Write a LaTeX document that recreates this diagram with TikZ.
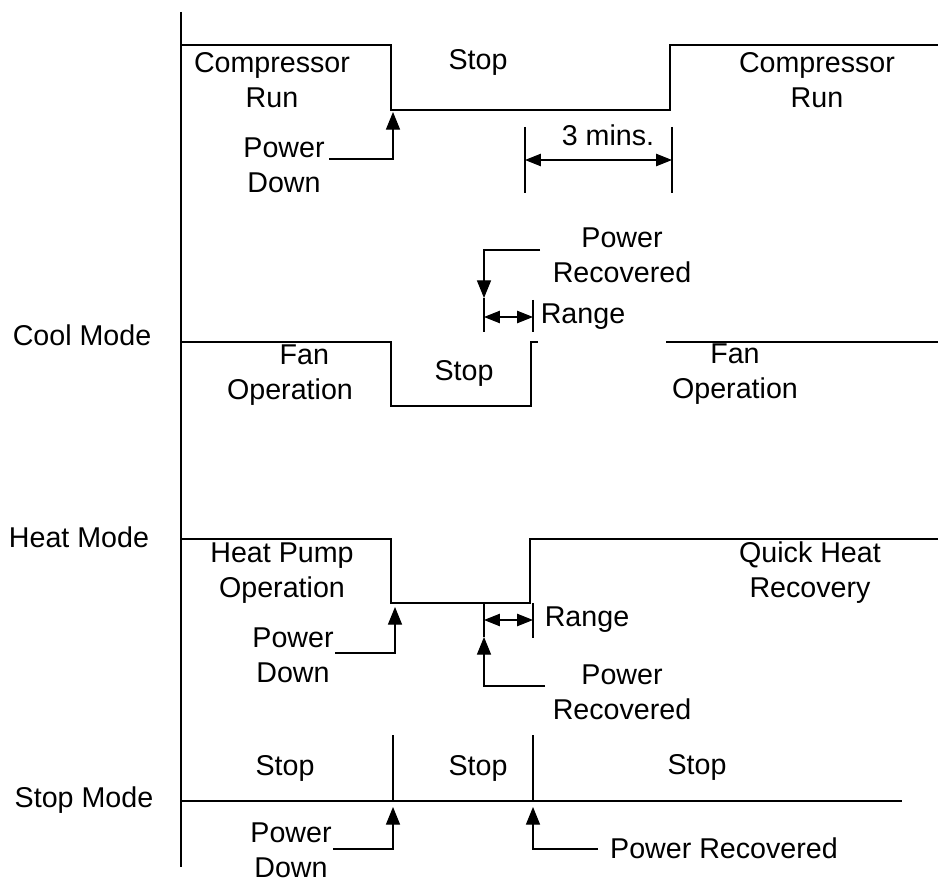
\documentclass[tikz,border=0pt]{standalone}
\usepackage{fontspec}
\setmainfont{Liberation Sans}
\usetikzlibrary{arrows.meta}

\begin{document}
\begin{tikzpicture}[
    x=0.02cm, y=-0.02cm,
    every node/.style={font=\fontsize{16.3}{19.9}\selectfont, align=center, inner sep=0pt},
    wave/.style={line width=0.6pt},
    pointer/.style={line width=0.6pt, -{Triangle[length=10pt,width=8pt]}},
    span/.style={line width=0.6pt, {Triangle[length=9pt,width=7pt]}-{Triangle[length=9pt,width=7pt]}}
]

\useasboundingbox (0,0) rectangle (938,882);

% =========================================================
% Time axis and mode labels
% =========================================================

\draw[wave] (181,12) -- (181,867);

\node (coolMode) at (82,335) {Cool Mode};
\node (heatMode) at (79,537) {Heat Mode};
\node (stopMode) at (84,800) {Stop Mode};


% =========================================================
% Compressor
% =========================================================

\draw[wave] (181,45) -- (391,45) -- (391,110) -- (670,110) -- (670,45) -- (938,45);

\node (compRunA) at (272,80) {Compressor\\Run};
\node (compStop) at (478,62) {Stop};
\node (compRunB) at (817,80) {Compressor\\Run};

\node (compDown) at (284,165) {Power\\Down};
\coordinate (compDownS) at (329,159);
\coordinate (compDownT) at (393,112);
\draw[pointer] (compDownS) -| (compDownT);

% 3 mins.
\draw[wave] (525,127) -- (525,193);
\draw[wave] (672,127) -- (672,193);
\coordinate (minsL) at (525,160);
\coordinate (minsR) at (672,160);
\draw[span] (minsL) -- (minsR);
\node (mins) at (608,135) {3 mins.};


% =========================================================
% Fan -- Cool Mode
% =========================================================

\draw[wave] (181,342) -- (391,342) -- (391,406) -- (531,406) -- (531,342) -- (538,342);
\draw[wave] (666,342) -- (938,342);

\node (fanOpA) at (290,375) {\hspace*{1em}Fan\\Operation};
\node (fanStop) at (464,373) {Stop};
\node (fanOpB) at (735,374) {Fan\\Operation};

\node (coolRec) at (622,255) {Power\\Recovered};
\coordinate (coolRecS) at (540,250);
\coordinate (coolRecT) at (484,298);
\draw[pointer] (coolRecS) -| (coolRecT);

\draw[wave] (484,298) -- (484,332);
\draw[wave] (533,300) -- (533,332);
\coordinate (coolRangeL) at (484,317);
\coordinate (coolRangeR) at (533,317);
\draw[span] (coolRangeL) -- (coolRangeR);
\node (coolRange) at (583,317) {Range};


% =========================================================
% Heat Mode
% =========================================================

\draw[wave] (181,539) -- (391,539) -- (391,603) -- (530,603) -- (530,539) -- (938,539);

\node (heatPump) at (282,573) {Heat Pump\\Operation};
\node (quickHeat) at (810,573) {Quick Heat\\Recovery};

\node (heatDown) at (293,655) {Power\\Down};
\coordinate (heatDownS) at (335,653);
\coordinate (heatDownT) at (395,607);
\draw[pointer] (heatDownS) -| (heatDownT);

\node (heatRec) at (622,692) {Power\\Recovered};
\coordinate (heatRecS) at (545,686);
\coordinate (heatRecT) at (484,637);
\draw[pointer] (heatRecS) -| (heatRecT);

\draw[wave] (484,603) -- (484,637);
\draw[wave] (533,603) -- (533,638);
\coordinate (heatRangeL) at (484,620);
\coordinate (heatRangeR) at (533,620);
\draw[span] (heatRangeL) -- (heatRangeR);
\node (heatRange) at (587,620) {Range};


% =========================================================
% Stop Mode
% =========================================================

\draw[wave] (181,801) -- (902,801);
\draw[wave] (393,735) -- (393,801);
\draw[wave] (533,735) -- (533,801);

\node (stopA) at (285,768) {Stop};
\node (stopB) at (478,768) {Stop};
\node (stopC) at (697,767) {Stop};

\node (stopDown) at (291,850) {Power\\Down};
\coordinate (stopDownS) at (333,849);
\coordinate (stopDownT) at (393,807);
\draw[pointer] (stopDownS) -| (stopDownT);

\node (stopRec) at (724,848) {Power Recovered};
\coordinate (stopRecS) at (598,849);
\coordinate (stopRecT) at (533,807);
\draw[pointer] (stopRecS) -| (stopRecT);

\end{tikzpicture}
\end{document}
